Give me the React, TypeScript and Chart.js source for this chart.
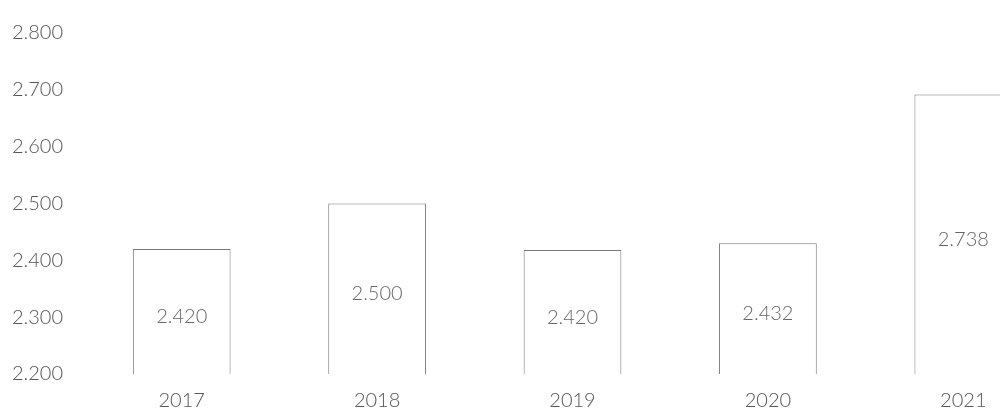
import React, { useEffect, useRef } from "react";
import { Chart, registerables } from "chart.js";

Chart.register(...registerables);

const categories = ["2017", "2018", "2019", "2020", "2021"];
const barValues = [2.42, 2.5, 2.418, 2.43, 2.692];
const valueLabels = ["2.420", "2.500", "2.420", "2.432", "2.738"];
const yMin = 2.2;
const yMax = 2.8;
const yStep = 0.1;

const FONT = "Lato, 'Open Sans', 'DejaVu Sans', sans-serif";

const valueLabelPlugin = {
  id: "barValueText",
  afterDraw(chart: any) {
    const ctx = chart.ctx;
    const xs = chart.scales.x;
    const ys = chart.scales.y;
    ctx.save();
    ctx.font = `300 20px ${FONT}`;
    ctx.fillStyle = "#666666";
    ctx.textAlign = "center";
    ctx.textBaseline = "middle";
    barValues.forEach((v, i) => {
      const x = xs.getPixelForValue(i);
      const top = ys.getPixelForValue(v);
      const base = ys.getPixelForValue(yMin);
      ctx.fillText(valueLabels[i], x, (top + base) / 2 + 5);
    });
    ctx.restore();
  },
};

export default function App() {
  const ref = useRef<HTMLCanvasElement | null>(null);
  useEffect(() => {
    if (!ref.current) return;
    const chart = new Chart(ref.current, {
      type: "bar",
      data: {
        labels: categories,
        datasets: [
          {
            data: barValues,
            backgroundColor: "#ffffff",
            borderColor: "#777777",
            borderWidth: 1,
            borderSkipped: "bottom",
            barPercentage: 0.5,
            categoryPercentage: 1,
          },
        ],
      },
      options: {
        animation: false,
        responsive: false,
        maintainAspectRatio: false,
        layout: { padding: { top: 17, right: 9, left: 0, bottom: 0 } },
        plugins: { legend: { display: false }, tooltip: { enabled: false } },
        scales: {
          x: {
            grid: { display: false, drawTicks: false },
            border: { display: false },
            ticks: {
              padding: 15,
              color: "#555",
              font: { family: FONT, size: 20, weight: "300" as any },
            },
            afterFit(scale: any) {
              scale.height = 40;
            },
          },
          y: {
            min: yMin,
            max: yMax,
            grid: { display: false, drawTicks: false },
            border: { display: false },
            ticks: {
              stepSize: yStep,
              padding: 21,
              color: "#555",
              font: { family: FONT, size: 20, weight: "300" as any },
              callback: (v: any) => Number(v).toFixed(3),
            },
            afterFit(scale: any) {
              scale.width = 84;
            },
          },
        },
      },
      plugins: [valueLabelPlugin],
    });
    return () => chart.destroy();
  }, []);
  return (
    <div
      style={{
        position: "fixed",
        left: 0,
        top: 0,
        width: 1000,
        height: 414,
        overflow: "hidden",
        background: "#fff",
      }}
    >
      <canvas ref={ref} width={1070} height={414} style={{ display: "block" }} />
    </div>
  );
}
